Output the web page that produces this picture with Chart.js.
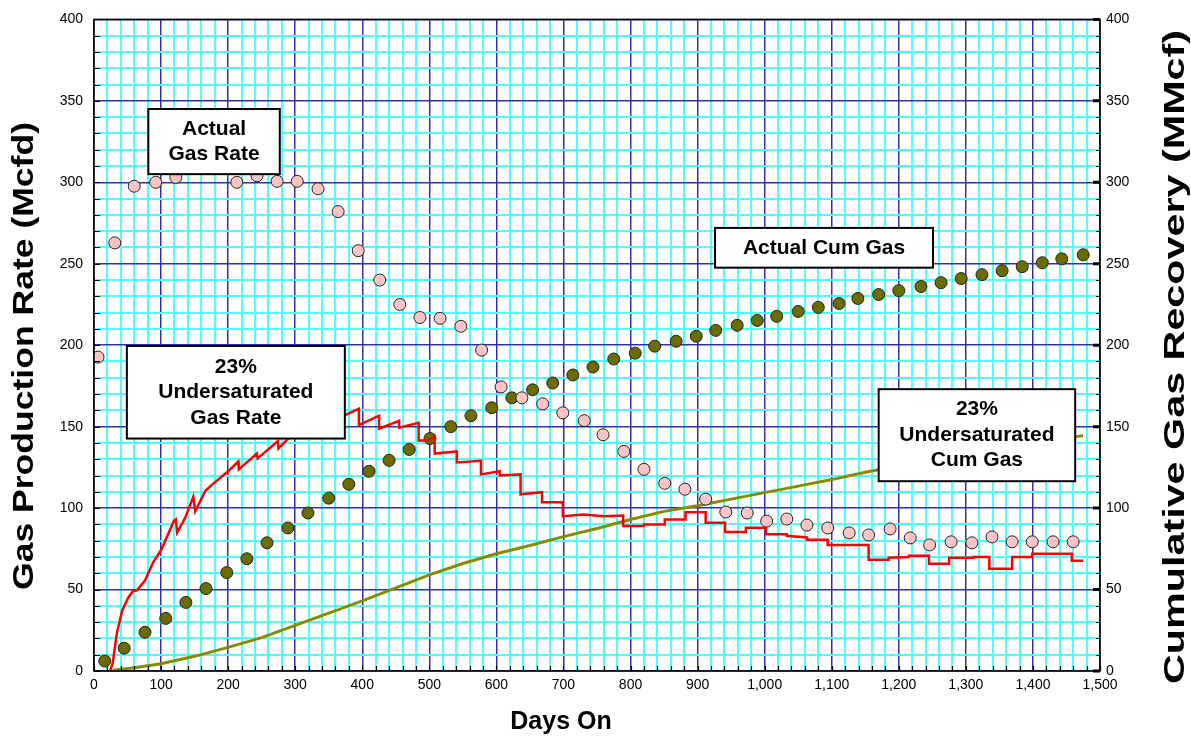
<!DOCTYPE html>
<html>
<head>
<meta charset="utf-8">
<script src="https://cdn.jsdelivr.net/npm/chart.js@4.4.0/dist/chart.umd.min.js"></script>
<style>
  html, body { margin: 0; padding: 0; background: #fff; }
</style>
</head>
<body>
<canvas id="myChart" width="1191" height="740"></canvas>
<script>
// actual monthly gas rate (Mcfd), pink circles
const rateDays = [6, 31, 60, 92, 122, 154, 183, 213, 243, 273, 303, 334, 364, 394, 426, 456, 486, 516, 547, 578,
  607, 638, 669, 699, 731, 759, 790, 820, 851, 881, 912, 942, 974, 1003, 1033, 1063, 1094, 1126, 1155, 1187,
  1217, 1246, 1278, 1309, 1339, 1369, 1399, 1430, 1460];
const rateValues = [192.7, 262.8, 297.6, 300, 303, 311, 310, 300, 304, 300.6, 300.6, 296, 282, 258, 240, 225, 217, 216.5, 211.6, 197,
  174.4, 167.7, 164, 158.5, 153.7, 145, 134.8, 123.8, 115.2, 111.6, 105.5, 97.6, 97, 92, 93.3, 89.6, 87.8, 84.8, 83.5, 87.2,
  81.7, 77.4, 79.3, 78.7, 82.3, 79.3, 79.3, 79.3, 79.3];

// actual cumulative gas (MMcf), olive circles
const cumDays = [16, 45, 76, 107, 137, 167, 198, 228, 258, 289, 319, 350, 380, 410, 440, 470, 501, 532, 562, 593,
  623, 654, 684, 714, 744, 775, 807, 836, 868, 898, 927, 959, 989, 1018, 1050, 1080, 1111, 1139, 1170, 1200,
  1233, 1263, 1293, 1324, 1354, 1384, 1414, 1443, 1475];
const cumValues = [6.1, 14, 23.8, 32.3, 42.1, 50.6, 60.4, 68.9, 78.7, 87.8, 97, 106.1, 114.6, 122.6, 129.3, 136, 142.7, 150, 156.7, 161.6,
  167.7, 172.6, 176.8, 181.7, 186.6, 191.5, 195.1, 199.4, 202.4, 205.5, 209.1, 212.2, 215.2, 217.7, 220.7, 223.2, 225.6, 228.7, 231.1, 233.5,
  236, 238.4, 240.9, 243.3, 245.7, 248.2, 250.6, 253, 255.5];

// 23% undersaturated model, gas rate (Mcfd), red line
const modelRateDays = [24, 28, 34, 42, 51, 58, 64, 76, 88, 101, 119, 122, 124, 136, 148, 151, 166, 178, 200, 215,
  216, 243, 244, 274, 275, 300, 322, 323, 348, 349, 374, 395, 395, 425, 425, 455, 455, 484, 484, 497,
  508, 508, 541, 541, 577, 577, 605, 605, 636, 636, 668, 668, 699, 699, 730, 760, 789, 789, 820, 820,
  851, 851, 882, 882, 912, 912, 941, 941, 972, 972, 1002, 1002, 1033, 1033, 1063, 1063, 1094, 1094, 1155, 1155,
  1185, 1185, 1215, 1215, 1245, 1245, 1275, 1275, 1311, 1311, 1335, 1335, 1369, 1369, 1399, 1399, 1458, 1458, 1475];
const modelRateValues = [0, 5, 23, 37, 45, 49, 49.5, 55.5, 66.5, 75, 92, 93, 85, 94, 107, 98, 110.6, 115, 122.6, 128.6,
  123.8, 133.5, 130.5, 141, 136.6, 147, 152, 148, 155, 151, 157, 161, 151, 156.7, 148.8, 153.6, 149.4, 152.4, 141.5, 141.5,
  144, 133.5, 134.8, 128, 129, 120.7, 122.6, 120, 120.7, 108.5, 109.8, 103.6, 103.6, 95, 96, 95, 95.5, 89, 89, 90,
  90, 93, 93, 97.5, 97.5, 91, 91, 85.4, 85.4, 88, 88, 84, 84, 83, 82, 80.5, 80.5, 77.4, 77.4, 68.3,
  68.3, 69.5, 70, 70.7, 70.7, 65.9, 65.9, 69.5, 69.5, 70, 70, 62.8, 62.8, 70, 70, 72, 72, 67.7, 67.7];

// 23% undersaturated model, cumulative gas (MMcf), olive line
const modelCumDays = [28, 60, 100, 150, 200, 250, 300, 350, 400, 450, 500, 550, 600, 650, 700, 750, 800, 850, 900, 950,
  1000, 1050, 1100, 1150, 1200, 1250, 1300, 1350, 1400, 1450, 1475];
const modelCumValues = [0.5, 2, 4.5, 9, 14.5, 20.5, 28, 35.5, 43, 51, 59, 66, 72, 77, 82.5, 87.5, 93, 98, 101.5, 105.5,
  109.5, 113.5, 117.5, 122, 126, 130, 134, 137.5, 140.5, 143, 144.5];

const dayMax = 1500, rateMax = 400, cumMax = 400;

const toXY = (xs, ys) => xs.map((d, i) => ({ x: d, y: ys[i] }));

const FONT = '"Liberation Sans", Arial, sans-serif';
const CYAN = '#4dffff';
const NAVY = '#3030a8';

// text boxes, corners in data units (days, Mcfd)
const notes = [
  { lines: ['Actual', 'Gas Rate'], d0: 81, d1: 277, v0: 345, v1: 305 },
  { lines: ['23%', 'Undersaturated', 'Gas Rate'], d0: 49, d1: 374, v0: 199.5, v1: 142.7 },
  { lines: ['Actual Cum Gas'], d0: 926, d1: 1251, v0: 272, v1: 247.6 },
  { lines: ['23%', 'Undersaturated', 'Cum Gas'], d0: 1170, d1: 1463, v0: 173, v1: 116.5 }
];

// vertical text stretched along its run to a given pixel span
function sideTitle(ctx, text, cx, yTop, yBottom) {
  const len = yBottom - yTop;
  const w = ctx.measureText(text).width;
  ctx.save();
  ctx.translate(cx, (yTop + yBottom) / 2);
  ctx.rotate(-Math.PI / 2);
  ctx.scale(len / w, 1);
  ctx.fillText(text, 0, 0);
  ctx.restore();
}

const frame = {
  id: 'frame',
  afterDatasetsDraw(chart) {
    const { ctx, chartArea: a, scales: { x, y, y2 } } = chart;
    ctx.save();
    ctx.strokeStyle = '#000';
    ctx.lineWidth = 1.2;
    ctx.beginPath();
    for (let v = 0; v <= rateMax; v += 10) {
      const py = Math.round(y.getPixelForValue(v)) + 0.5;
      ctx.moveTo(a.left, py); ctx.lineTo(a.left + 6, py);
      ctx.moveTo(a.right, py); ctx.lineTo(a.right - 4, py);
    }
    for (let d = 0; d <= dayMax; d += 20) {
      const px = Math.round(x.getPixelForValue(d)) + 0.5;
      ctx.moveTo(px, a.bottom); ctx.lineTo(px, a.bottom - 5);
    }
    ctx.stroke();
    ctx.lineWidth = 3;
    ctx.beginPath();
    for (let v = 0; v <= cumMax; v += 50) {
      const py = y2.getPixelForValue(v);
      ctx.moveTo(a.right - 7, py); ctx.lineTo(a.right, py);
    }
    ctx.stroke();
    ctx.lineWidth = 1.5;
    ctx.strokeRect(a.left, a.top, a.right - a.left, a.bottom - a.top);
    ctx.restore();
  },
  afterDraw(chart) {
    const { ctx, scales: { x, y } } = chart;
    ctx.save();
    notes.forEach(n => {
      const l = x.getPixelForValue(n.d0), r = x.getPixelForValue(n.d1);
      const t = y.getPixelForValue(n.v0), b = y.getPixelForValue(n.v1);
      ctx.fillStyle = '#fff';
      ctx.fillRect(l, t, r - l, b - t);
      ctx.strokeStyle = '#000';
      ctx.lineWidth = 2;
      ctx.strokeRect(l, t, r - l, b - t);
      ctx.fillStyle = '#000';
      ctx.font = 'bold 21px ' + FONT;
      ctx.textAlign = 'center';
      ctx.textBaseline = 'middle';
      const lh = 25.5;
      const cy = (t + b) / 2 - (n.lines.length - 1) * lh / 2;
      n.lines.forEach((s, i) => ctx.fillText(s, (l + r) / 2, cy + i * lh));
    });

    ctx.fillStyle = '#000';
    ctx.textAlign = 'center';
    ctx.textBaseline = 'middle';
    ctx.font = 'bold 25px ' + FONT;
    ctx.fillText('Days On', 561, 722);

    ctx.font = 'bold 29px ' + FONT;
    sideTitle(ctx, 'Gas Production Rate (Mcfd)', 25, 122, 590);
    sideTitle(ctx, 'Cumulative Gas Recovery (MMcf)', 1176, 30, 684);
    ctx.restore();
  }
};

const tickFont = { family: FONT, size: 14 };

new Chart(document.getElementById('myChart').getContext('2d'), {
  type: 'scatter',
  data: {
    datasets: [
      {
        label: '23% Undersaturated Gas Rate',
        type: 'line',
        data: toXY(modelRateDays, modelRateValues),
        borderColor: '#ff0000',
        borderWidth: 2.5,
        pointRadius: 0,
        tension: 0,
        fill: false,
        yAxisID: 'y',
        order: 0
      },
      {
        label: 'Actual Gas Rate',
        data: toXY(rateDays, rateValues),
        backgroundColor: '#fcc4c4',
        borderColor: '#222',
        borderWidth: 1,
        pointRadius: 6,
        yAxisID: 'y',
        order: 1
      },
      {
        label: 'Actual Cum Gas',
        data: toXY(cumDays, cumValues),
        backgroundColor: '#6b6b00',
        borderColor: '#222',
        borderWidth: 1,
        pointRadius: 6,
        yAxisID: 'y2',
        order: 2
      },
      {
        label: '23% Undersaturated Cum Gas',
        type: 'line',
        data: toXY(modelCumDays, modelCumValues),
        borderColor: '#8a8a00',
        borderWidth: 3,
        pointRadius: 0,
        tension: 0,
        fill: false,
        yAxisID: 'y2',
        order: 3
      }
    ]
  },
  options: {
    responsive: false,
    animation: false,
    events: [],
    layout: { padding: { top: 15, left: 0, right: 0, bottom: 0 } },
    plugins: { legend: { display: false }, tooltip: { enabled: false } },
    scales: {
      x: {
        type: 'linear',
        position: 'bottom',
        min: 0,
        max: dayMax,
        afterFit: s => { s.height = 69; },
        border: { display: false },
        grid: {
          drawTicks: false,
          color: c => c.tick.value % 100 === 0 ? NAVY : CYAN,
          lineWidth: c => c.tick.value % 100 === 0 ? 1.5 : 2
        },
        ticks: {
          stepSize: 20,
          autoSkip: false,
          maxRotation: 0,
          minRotation: 0,
          padding: 6,
          color: '#000',
          font: tickFont,
          callback: v => v % 100 === 0 ? v.toLocaleString('en-US') : ''
        }
      },
      y: {
        type: 'linear',
        position: 'left',
        min: 0,
        max: rateMax,
        afterFit: s => { s.width = 94; },
        border: { display: false },
        grid: {
          drawTicks: false,
          color: c => c.tick.value % 50 === 0 ? NAVY : CYAN,
          lineWidth: c => c.tick.value % 50 === 0 ? 1.5 : 2
        },
        ticks: {
          stepSize: 10,
          autoSkip: false,
          padding: 11,
          color: '#000',
          font: tickFont,
          callback: v => v % 50 === 0 ? String(v) : ''
        }
      },
      y2: {
        type: 'linear',
        position: 'right',
        min: 0,
        max: cumMax,
        afterFit: s => { s.width = 91; },
        border: { display: false },
        grid: { drawOnChartArea: false, drawTicks: false },
        ticks: {
          stepSize: 10,
          autoSkip: false,
          padding: 6,
          color: '#000',
          font: tickFont,
          callback: v => v % 50 === 0 ? String(v) : ''
        }
      }
    }
  },
  plugins: [frame]
});
</script>
</body>
</html>
